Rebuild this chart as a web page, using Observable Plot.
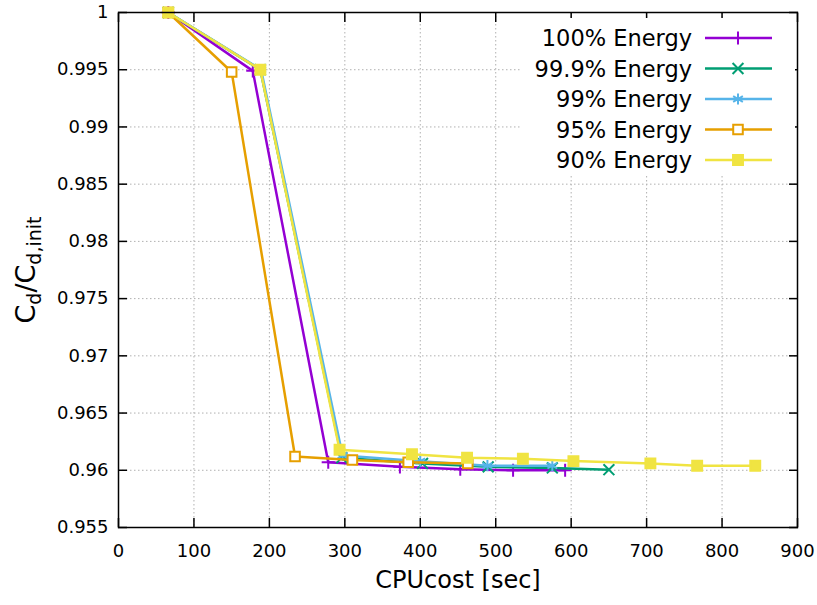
<!DOCTYPE html>
<html><head><meta charset="utf-8">
<script src="https://cdn.jsdelivr.net/npm/d3@7"></script>
<script src="https://cdn.jsdelivr.net/npm/@observablehq/plot@0.6"></script>
<style>body{margin:0;background:#fff} svg{display:block}</style>
</head><body><div id="chart"></div>
<script>
const seriesNames = ["100% Energy", "99.9% Energy", "99% Energy", "95% Energy", "90% Energy"];
const seriesColors = ["#9400d3", "#009e73", "#56b4e9", "#e69f00", "#f0e442"];

const cpu100 = [66, 178, 278, 373, 453, 523, 592];
const cd100  = [1, 0.9949, 0.9607, 0.9603, 0.9601, 0.9600, 0.9600];
const cpu999 = [66, 188, 296, 403, 490, 575, 650];
const cd999  = [1, 0.9950, 0.9611, 0.9606, 0.9603, 0.9602, 0.96005];
const cpu99  = [66, 189, 297, 400, 489, 575];
const cd99   = [1, 0.9950, 0.9613, 0.9608, 0.9604, 0.9604];
const cpu95  = [66, 150, 234, 310, 384, 463];
const cd95   = [1, 0.9948, 0.9612, 0.9609, 0.9607, 0.9606];
const cpu90  = [66, 188, 293, 389, 462, 536, 603, 705, 767, 844];
const cd90   = [1, 0.9950, 0.9618, 0.9614, 0.9611, 0.9610, 0.9608, 0.9606, 0.9604, 0.9604];

const xTicks = [0, 100, 200, 300, 400, 500, 600, 700, 800, 900];
const yTicks = [0.955, 0.96, 0.965, 0.97, 0.975, 0.98, 0.985, 0.99, 0.995, 1];

const xs = [cpu100, cpu999, cpu99, cpu95, cpu90];
const ys = [cd100, cd999, cd99, cd95, cd90];
const tables = seriesNames.map((name, i) => xs[i].map((x, j) => ({series: name, x, y: ys[i][j]})));

const symbolSpecs = [
  {symbol: "plus", r: 4.3, fill: "none"},
  {symbol: "times", r: 5, fill: "none"},
  {symbol: "asterisk", r: 5.3, fill: "none"},
  {symbol: "square", r: 5.4, fill: "#fff"},
  {symbol: "square", r: 5.6, fill: "fill"}
];

const marks = [
  Plot.gridX(xTicks, {stroke: "#b0b0b0", strokeOpacity: 1, strokeDasharray: "1.5,2.5"}),
  Plot.gridY(yTicks, {stroke: "#b0b0b0", strokeOpacity: 1, strokeDasharray: "1.5,2.5"})
];
tables.forEach((t, i) => {
  const s = symbolSpecs[i];
  marks.push(Plot.line(t, {x: "x", y: "y", stroke: seriesColors[i], strokeWidth: 2.5, curve: "linear"}));
  marks.push(Plot.dot(t, {
    x: "x", y: "y", symbol: s.symbol, r: s.r,
    stroke: seriesColors[i], strokeWidth: 2,
    fill: s.fill === "fill" ? seriesColors[i] : s.fill
  }));
});
marks.push(
  Plot.frame({stroke: "#000", strokeWidth: 1.5}),
  Plot.axisX(xTicks, {anchor: "bottom", tickSize: 0, tickPadding: 17, label: null, fontSize: 18}),
  Plot.axisX(xTicks, {anchor: "bottom", tickSize: -9, text: null, label: null, stroke: "#000", strokeWidth: 1.5}),
  Plot.axisX(xTicks, {anchor: "top", tickSize: -9, text: null, label: null, stroke: "#000", strokeWidth: 1.5}),
  Plot.axisY(yTicks, {anchor: "left", tickSize: 0, tickPadding: 10, label: null, fontSize: 18,
    tickFormat: d => String(+d.toFixed(3))}),
  Plot.axisY(yTicks, {anchor: "left", tickSize: -9, text: null, label: null, stroke: "#000", strokeWidth: 1.5}),
  Plot.axisY(yTicks, {anchor: "right", tickSize: -9, text: null, label: null, stroke: "#000", strokeWidth: 1.5}),
  Plot.text(["CPUcost [sec]"], {text: d => d, frameAnchor: "bottom", dy: 60, fontSize: 24})
);

const chart = Plot.plot({
  width: 817, height: 605,
  marginLeft: 118, marginRight: 20, marginTop: 12, marginBottom: 78,
  style: {fontFamily: "'DejaVu Sans', Verdana, sans-serif", fontSize: "18px", color: "#000", background: "#fff"},
  x: {domain: [0, 900]},
  y: {domain: [0.955, 1]},
  marks
});
document.getElementById("chart").appendChild(chart);

// y-axis label with subscripts
const svg = d3.select(chart);
const yl = svg.append("text")
  .attr("transform", "translate(35,270) rotate(-90)")
  .attr("text-anchor", "middle")
  .attr("font-size", 27)
  .attr("fill", "#000");
yl.append("tspan").text("C");
yl.append("tspan").attr("font-size", 19).attr("dy", 6).text("d");
yl.append("tspan").attr("dy", -6).text("/C");
yl.append("tspan").attr("font-size", 19).attr("dy", 6).text("d,init");

// legend (inside plot, top right)
const lg = svg.append("g");
lg.append("rect").attr("x", 522).attr("y", 18).attr("width", 273).attr("height", 158).attr("fill", "#fff");
const typeMap = {plus: d3.symbolPlus, times: d3.symbolTimes, asterisk: d3.symbolAsterisk, square: d3.symbolSquare};
seriesNames.forEach((name, i) => {
  const cy = 38 + i * 30.5;
  lg.append("text").attr("x", 692).attr("y", cy).attr("text-anchor", "end")
    .attr("dominant-baseline", "central").attr("font-size", 22.5).attr("fill", "#000").text(name);
  lg.append("line").attr("x1", 705).attr("x2", 772).attr("y1", cy).attr("y2", cy)
    .attr("stroke", seriesColors[i]).attr("stroke-width", 2.5);
  const s = symbolSpecs[i];
  lg.append("path").attr("transform", `translate(738,${cy})`)
    .attr("d", d3.symbol(typeMap[s.symbol], Math.PI * s.r * s.r)())
    .attr("stroke", seriesColors[i]).attr("stroke-width", 2)
    .attr("fill", s.fill === "fill" ? seriesColors[i] : s.fill);
});
</script>
</body></html>
